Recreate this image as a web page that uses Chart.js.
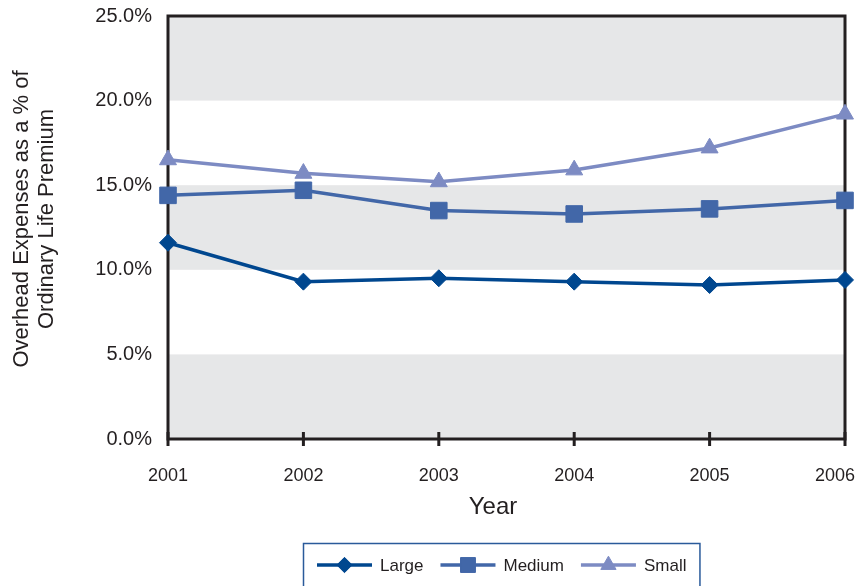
<!DOCTYPE html>
<html>
<head>
<meta charset="utf-8">
<title>Overhead Expenses</title>
<style>
  html, body { margin: 0; padding: 0; background: #ffffff; }
  #wrap { width: 866px; height: 586px; position: relative; }
</style>
<script src="https://cdn.jsdelivr.net/npm/chart.js@4.4.1/dist/chart.umd.min.js"></script>
</head>
<body>
<div id="wrap"><canvas id="c" width="866" height="586"></canvas></div>
<script>
// Data
const years = ['2001', '2002', '2003', '2004', '2005', '2006'];
const large = [11.6, 9.3, 9.5, 9.3, 9.1, 9.4];
const medium = [14.4, 14.7, 13.5, 13.3, 13.6, 14.1];
const small = [16.5, 15.7, 15.2, 15.9, 17.2, 19.2];
const seriesNames = ['Large', 'Medium', 'Small'];
const yTitleLines = ['Overhead Expenses as a % of', 'Ordinary Life Premium'];
const xTitle = 'Year';
const shadedBands = [[0, 5], [10, 15], [20, 25]];

const FONT = '"Liberation Sans", Arial, Helvetica, sans-serif';
const INK = '#231f20';
const COLORS = ['#00478f', '#4267a8', '#7d8bc3'];
const STYLES = [
  { pointStyle: 'rectRot', radius: 8.5 },
  { pointStyle: 'rect', radius: 11.7 },
  { pointStyle: 'triangle', radius: 9.8 }
];

function drawMarker(ctx, style, radius, color, x, y) {
  ctx.save();
  ctx.fillStyle = color;
  ctx.strokeStyle = color;
  ctx.lineWidth = 1;
  if (Chart.helpers && Chart.helpers.drawPoint) {
    Chart.helpers.drawPoint(ctx, { pointStyle: style, radius: radius, rotation: 0, borderWidth: 1 }, x, y);
  } else {
    ctx.beginPath();
    if (style === 'rectRot') {
      ctx.moveTo(x, y - radius); ctx.lineTo(x + radius, y); ctx.lineTo(x, y + radius); ctx.lineTo(x - radius, y);
    } else if (style === 'rect') {
      const s = radius * Math.SQRT1_2;
      ctx.rect(x - s, y - s, 2 * s, 2 * s);
    } else {
      ctx.moveTo(x, y - radius);
      ctx.lineTo(x + radius * 0.866, y + radius / 2);
      ctx.lineTo(x - radius * 0.866, y + radius / 2);
    }
    ctx.closePath(); ctx.fill();
  }
  ctx.restore();
}

// Shaded bands, plot frame, crossing tick marks, axis titles and the boxed legend
const decorations = {
  id: 'decorations',
  beforeDatasetsDraw(chart) {
    const { ctx, chartArea: a, scales: { x, y } } = chart;
    ctx.save();
    ctx.fillStyle = '#e6e7e8';
    shadedBands.forEach(([lo, hi]) => {
      const t = y.getPixelForValue(hi);
      const b = y.getPixelForValue(lo);
      ctx.fillRect(a.left, t, a.right - a.left, b - t);
    });
    ctx.strokeStyle = INK;
    ctx.lineWidth = 3;
    ctx.strokeRect(a.left, a.top, a.right - a.left, a.bottom - a.top);
    x.ticks.forEach((t, i) => {
      const px = x.getPixelForTick(i);
      ctx.beginPath();
      ctx.moveTo(px, a.bottom - 7);
      ctx.lineTo(px, a.bottom + 7);
      ctx.stroke();
    });
    ctx.restore();
  },
  afterDraw(chart) {
    const { ctx } = chart;
    ctx.save();
    ctx.fillStyle = INK;

    // y axis title, two rotated lines
    ctx.font = '22px ' + FONT;
    ctx.textAlign = 'center';
    ctx.textBaseline = 'middle';
    [22, 47].forEach((lx, i) => {
      ctx.save();
      ctx.translate(lx, 219);
      ctx.rotate(-Math.PI / 2);
      ctx.fillText(yTitleLines[i], 0, 0);
      ctx.restore();
    });

    // x axis title
    ctx.font = '24px ' + FONT;
    ctx.textBaseline = 'alphabetic';
    ctx.fillText(xTitle, 493, 514);

    // legend
    ctx.font = '17px ' + FONT;
    const lineLen = 55, gapText = 8, gapItem = 17, padL = 14, padR = 13;
    const widths = chart.data.datasets.map(ds => ctx.measureText(ds.label).width);
    let total = padL + padR + gapItem * (widths.length - 1);
    widths.forEach(w => { total += lineLen + gapText + w; });
    const boxLeft = Math.round(501.5 - total / 2);
    const boxTop = 543;
    const cy = 565;
    ctx.strokeStyle = '#2a5a9a';
    ctx.lineWidth = 1.5;
    ctx.strokeRect(boxLeft + 0.5, boxTop + 0.5, total, 80);
    let cx = boxLeft + padL;
    chart.data.datasets.forEach((ds, i) => {
      ctx.strokeStyle = ds.borderColor;
      ctx.lineWidth = 3.5;
      ctx.beginPath();
      ctx.moveTo(cx, cy);
      ctx.lineTo(cx + lineLen, cy);
      ctx.stroke();
      drawMarker(ctx, ds.pointStyle, ds.pointRadius * 0.9, ds.borderColor, cx + lineLen / 2, cy);
      cx += lineLen + gapText;
      ctx.fillStyle = INK;
      ctx.textAlign = 'left';
      ctx.textBaseline = 'middle';
      ctx.fillText(ds.label, cx, cy + 1);
      cx += widths[i] + gapItem;
    });
    ctx.restore();
  }
};

const seriesData = [large, medium, small];
const datasets = seriesData.map((vals, i) => ({
  label: seriesNames[i],
  data: vals,
  borderColor: COLORS[i],
  backgroundColor: COLORS[i],
  borderWidth: 3.5,
  pointStyle: STYLES[i].pointStyle,
  pointRadius: STYLES[i].radius,
  pointHoverRadius: STYLES[i].radius,
  pointBorderWidth: 1,
  tension: 0,
  clip: false
}));

new Chart(document.getElementById('c'), {
  type: 'line',
  data: { labels: years, datasets: datasets },
  options: {
    responsive: false,
    animation: false,
    devicePixelRatio: 1,
    events: [],
    layout: { padding: { top: 16, right: 21, left: 0, bottom: 0 } },
    plugins: { legend: { display: false }, tooltip: { enabled: false } },
    scales: {
      x: {
        offset: false,
        grid: { display: false, drawTicks: false },
        border: { display: false },
        ticks: {
          color: INK,
          font: { family: FONT, size: 18 },
          padding: 26,
          maxRotation: 0,
          // keep the last year label inside the canvas edge
          callback: (v, i, ticks) => i === ticks.length - 1 ? years[i] + '\u2007\u2007' : years[i]
        },
        afterFit(scale) {
          scale.height = 147;
          scale.paddingLeft = 0;
          scale.paddingRight = 0;
        }
      },
      y: {
        min: 0,
        max: 25,
        grid: { display: false, drawTicks: false },
        border: { display: false },
        ticks: {
          stepSize: 5,
          color: INK,
          font: { family: FONT, size: 20 },
          padding: 16,
          callback: v => v.toFixed(1) + '%'
        },
        afterFit(scale) {
          scale.width = 168;
          scale.paddingTop = 0;
          scale.paddingBottom = 0;
        }
      }
    }
  },
  plugins: [decorations]
});
</script>
</body>
</html>
